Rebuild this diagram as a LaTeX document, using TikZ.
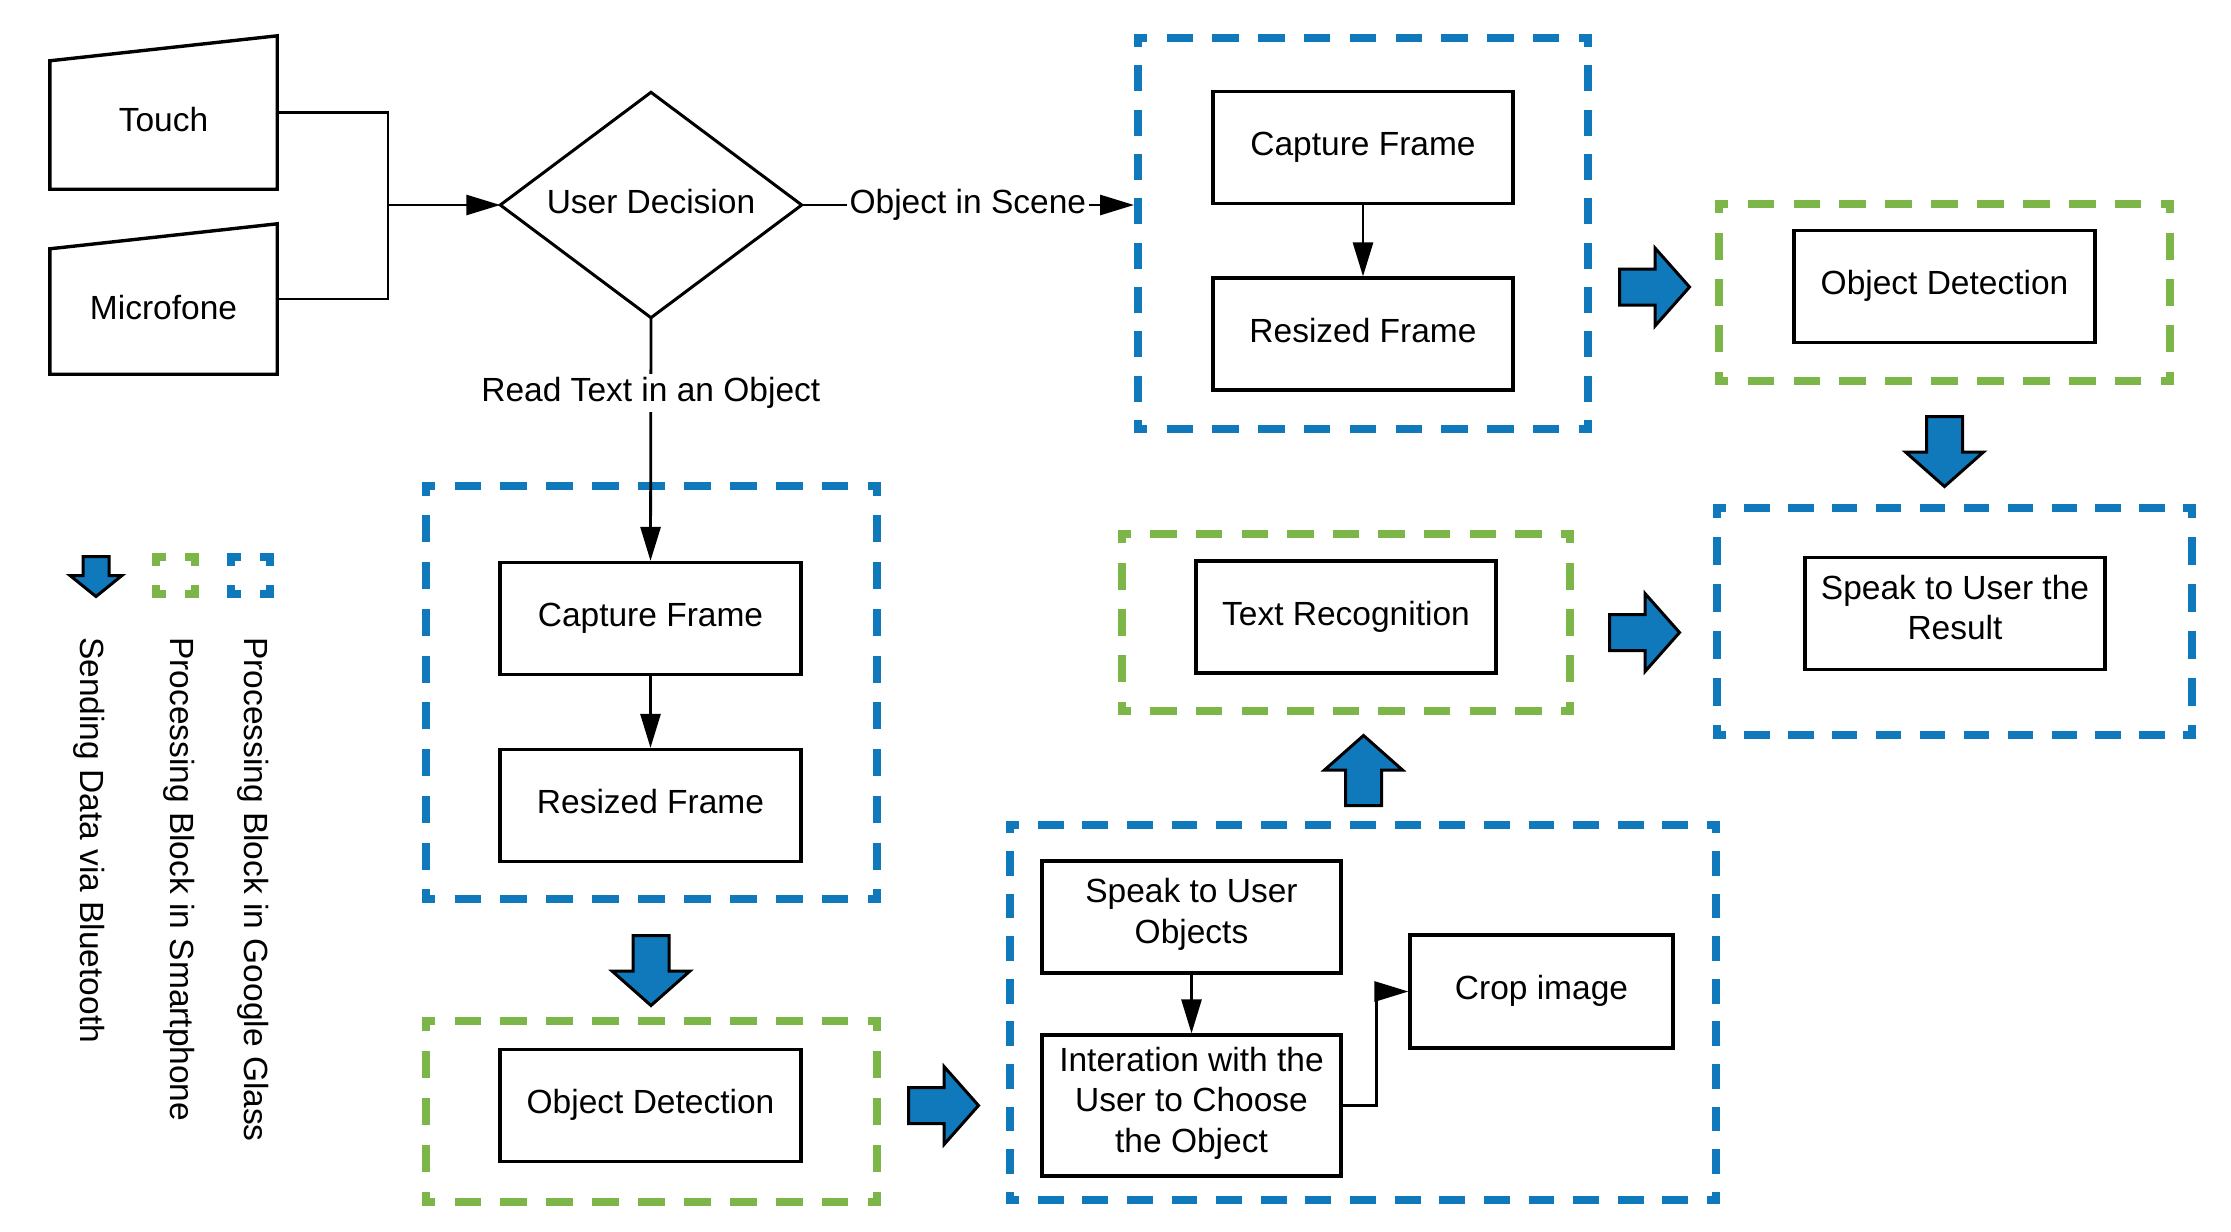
\documentclass[tikz,border=0pt]{standalone}
\usepackage{fontspec}
\setmainfont{Liberation Sans}
\usetikzlibrary{arrows.meta,calc}
\definecolor{gblue}{HTML}{1079BC}
\definecolor{ggreen}{HTML}{7CB548}

% dashed side helpers (symmetric dashes with L-shaped corners)
\newcommand\dashH[4]{% color, x1, x2, y
  \pgfmathsetmacro\dshL{#3-#2+8}%
  \pgfmathsetmacro\dshN{max(1,round(\dshL/45))}%
  \pgfmathsetmacro\dshP{\dshL/\dshN}%
  \pgfmathsetmacro\dshOn{\dshP*0.58}%
  \pgfmathsetmacro\dshOff{\dshP-\dshOn}%
  \pgfmathsetmacro\dshPh{\dshOn/2}%
  \draw[#1,line width=8pt,dash pattern=on \dshOn pt off \dshOff pt,dash phase=\dshPh pt] (#2-4,#4) -- (#3+4,#4);%
}
\newcommand\dashV[4]{% color, x, y1, y2
  \pgfmathsetmacro\dshL{#4-#3+8}%
  \pgfmathsetmacro\dshN{max(1,round(\dshL/45))}%
  \pgfmathsetmacro\dshP{\dshL/\dshN}%
  \pgfmathsetmacro\dshOn{\dshP*0.58}%
  \pgfmathsetmacro\dshOff{\dshP-\dshOn}%
  \pgfmathsetmacro\dshPh{\dshOn/2}%
  \draw[#1,line width=8pt,dash pattern=on \dshOn pt off \dshOff pt,dash phase=\dshPh pt] (#2,#3-4) -- (#2,#4+4);%
}
\newcommand\groupbox[5]{% color, x1, y1, x2, y2
  \dashH{#1}{#2}{#4}{#3}\dashH{#1}{#2}{#4}{#5}%
  \dashV{#1}{#2}{#3}{#5}\dashV{#1}{#4}{#3}{#5}%
}
\newcommand\blockarrow[7]{% cx, cy, rotation, total length, head half width, shaft half width, shaft length
  \begin{scope}[shift={(#1,#2)},rotate=#3]
    \filldraw[fill=gblue,draw=black,line width=3pt,line join=miter]
      (-#4/2,-#6) -- (-#4/2+#7,-#6) -- (-#4/2+#7,-#5) -- (#4/2,0) --
      (-#4/2+#7,#5) -- (-#4/2+#7,#6) -- (-#4/2,#6) -- cycle;
  \end{scope}
}

\tikzset{
  txt/.style={font=\fontsize{33.5}{40.5}\selectfont, inner sep=0pt, align=center},
  struttxt/.style={txt, execute at begin node=\strut, execute at end node=\strut},
  box/.style={struttxt, draw, line width=3.2pt, minimum width=300pt, minimum height=112pt},
  conn/.style={line width=2.8pt, line join=miter, -{Triangle[length=34pt,width=20pt]}},
  plain/.style={line width=2.8pt, line join=miter},
  lbl/.style={txt, fill=white, inner sep=3pt},
  shapeline/.style={line width=3.4pt, line join=miter},
}

\begin{document}
\begin{tikzpicture}[x=1pt,y=-1pt]
\useasboundingbox (0,0) rectangle (2231,1232);

% group frames
\groupbox{gblue}{1138}{38}{1588}{429}
\groupbox{ggreen}{1719}{204}{2170}{381}
\groupbox{gblue}{1717}{508}{2192}{735}
\groupbox{ggreen}{1122}{534}{1570}{711}
\groupbox{gblue}{1010}{825}{1716}{1200}
\groupbox{gblue}{426}{486}{877}{899}
\groupbox{ggreen}{426}{1021}{877}{1202}

% legend
\blockarrow{96}{576.5}{-90}{40}{26}{13}{19}
\groupbox{ggreen}{156}{557}{195}{594}
\groupbox{gblue}{231}{557}{270}{594}
\node[txt, rotate=-90, anchor=west] (lgglass) at (253,637) {Processing Block in Google Glass};
\node[txt, rotate=-90, anchor=west] (lgphone) at (179,637) {Processing Block in Smartphone};
\node[txt, rotate=-90, anchor=west] (lgblue) at (89,637) {Sending Data via Bluetooth};

% inputs (manual input shapes)
\node[minimum width=227pt, minimum height=153pt, inner sep=0pt] (touch) at (163.5,112.5) {};
\draw[shapeline] (touch.south west) -- (touch.south east) -- (touch.north east) -- ([yshift=-25pt]touch.north west) -- cycle;
\node[txt] (touchtxt) at (163.5,120) {Touch};
\node[minimum width=227pt, minimum height=150pt, inner sep=0pt] (mic) at (163.5,299) {};
\draw[shapeline] (mic.south west) -- (mic.south east) -- (mic.north east) -- ([yshift=-25pt]mic.north west) -- cycle;
\node[txt] (mictxt) at (163.5,308) {Microfone};

% decision
\node[struttxt, minimum width=301pt, minimum height=225pt] (dec) at (651,205) {User Decision};
\draw[line width=3pt, line join=miter] (dec.north) -- (dec.east) -- (dec.south) -- (dec.west) -- cycle;

% boxes
\node[box] (cap1) at (1363,147.5) {Capture Frame};
\node[box] (res1) at (1363,334) {Resized Frame};
\node[box, minimum width=301pt] (od1) at (1944.5,286.5) {Object Detection};
\node[box] (spk) at (1955,613.5) {Speak to User the\\Result};
\node[box] (txtrec) at (1346,617) {Text Recognition};
\node[box, minimum width=301pt] (cap2) at (650.5,618.5) {Capture Frame};
\node[box, minimum width=301pt] (res2) at (650.5,805.5) {Resized Frame};
\node[box, minimum width=301pt] (od2) at (650.5,1105.5) {Object Detection};
\node[box, minimum width=299pt] (spo) at (1191.5,917) {Speak to User\\Objects};
\node[box, minimum width=299pt, minimum height=141pt] (inter) at (1191.5,1105.5) {Interation with the\\User to Choose\\the Object};
\node[box, minimum width=263pt, minimum height=113pt] (crop) at (1541.5,991.5) {Crop image};

% connectors
\coordinate (jn) at (388,205);
\coordinate (g1in) at (1134,205);
\draw[plain] (touch.east) -| (jn);
\draw[plain] (mic.east) -| (jn);
\draw[conn] (jn) -- (dec.west);
\draw[conn] (dec.east) -- node[lbl] (ois) {Object in Scene} (g1in);
\draw[conn] (dec.south) -- node[lbl, pos=0.31] (rtio) {Read Text in an Object} (cap2.north);
\draw[conn] (cap1.south) -- (res1.north);
\draw[conn] (cap2.south) -- (res2.north);
\draw[conn] (spo.south) -- (inter.north);
\draw[conn] (inter.east) -- ++(34,0) |- (crop.west);

% block arrows
\blockarrow{1654.5}{287}{0}{70}{39}{18}{35.5}
\blockarrow{1944.5}{451.5}{-90}{70}{39}{18}{35.5}
\blockarrow{1644.5}{632.5}{0}{70}{39}{18}{35.5}
\blockarrow{1363.5}{770.5}{90}{70}{39}{18}{35.5}
\blockarrow{651}{970.5}{-90}{70}{39}{18}{35.5}
\blockarrow{943.5}{1105.5}{0}{70}{39}{18}{35.5}
\end{tikzpicture}
\end{document}
